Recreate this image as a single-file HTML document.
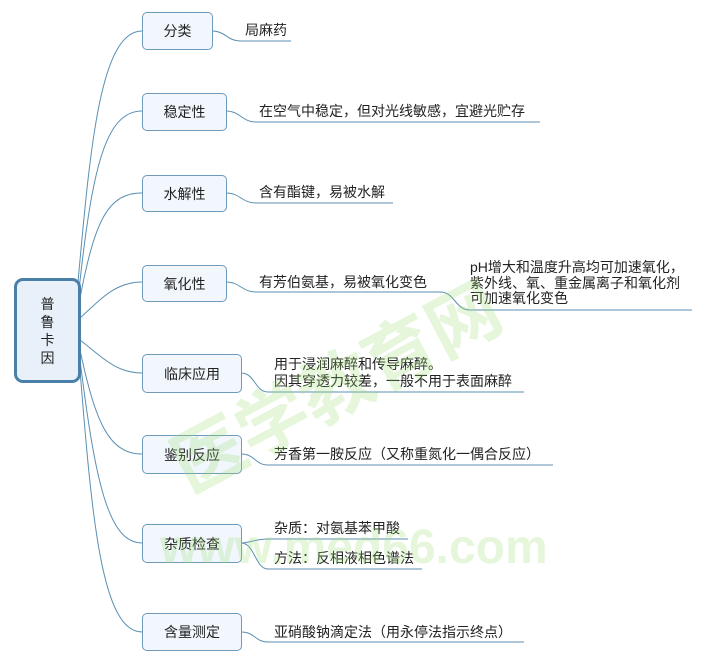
<!DOCTYPE html>
<html><head><meta charset="utf-8"><style>
body{margin:0;background:#fff;width:703px;height:662px;overflow:hidden;position:relative;font-family:"Liberation Sans","Noto Sans CJK SC",sans-serif;}
.b{position:absolute;border:1px solid #6e9abb;border-radius:5px;background:#f1f7fc;font-size:14px;color:#222;display:flex;align-items:center;justify-content:center;box-sizing:border-box;}
.t{position:absolute;font-size:14px;color:#222;white-space:nowrap;line-height:16px;}
.wm{position:absolute;color:rgba(150,220,110,0.25);font-weight:bold;white-space:nowrap;}
</style></head><body>
<svg width="703" height="662" style="position:absolute;left:0;top:0" fill="none" stroke="#5b8fb3" stroke-width="1">
<path d="M78,282 C90,150 100,31 142,31"/>
<path d="M79,290 C92,170 105,111 142,111"/>
<path d="M80,298 C95,220 108,193 142,193"/>
<path d="M80,318 C100,300 115,282 142,282"/>
<path d="M80,340 C100,355 115,373 142,373"/>
<path d="M80,350 C95,420 108,454 142,454"/>
<path d="M80,360 C95,480 108,543 142,543"/>
<path d="M80,370 C92,520 102,632 142,632"/>
<path d="M212,31 C225,31 228,41 240,41 L291,41"/>
<path d="M226,111 C240,111 242,122 256,122 L540,122"/>
<path d="M226,193 C240,193 242,203 256,203 L393,203"/>
<path d="M226,282 C240,282 242,292 256,292 L440,292 C455,292 455,310 470,310 L692,310"/>
<path d="M241,373 C255,373 255,392 268,392 L524,392"/>
<path d="M241,454 C255,454 255,465 268,465 L553,465"/>
<path d="M241,543 C250,543 255,539 268,539 L408,539"/>
<path d="M241,543 C255,543 255,569 268,569 L422,569"/>
<path d="M241,632 C255,632 255,642 268,642 L524,642"/>
</svg>
<div class="b" style="left:14px;top:278px;width:67px;height:105px;border:3px solid #4a80a8;border-radius:9px;background:#e8f1f9;line-height:18px;text-align:center;font-size:14px">普<br>鲁<br>卡<br>因</div>
<div class="b" style="left:142px;top:12px;width:71px;height:38px">分类</div>
<div class="b" style="left:142px;top:93px;width:85px;height:38px">稳定性</div>
<div class="b" style="left:142px;top:175px;width:85px;height:37px">水解性</div>
<div class="b" style="left:142px;top:265px;width:85px;height:37px">氧化性</div>
<div class="b" style="left:142px;top:354px;width:100px;height:39px">临床应用</div>
<div class="b" style="left:142px;top:435px;width:100px;height:39px">鉴别反应</div>
<div class="b" style="left:142px;top:524px;width:100px;height:39px">杂质检查</div>
<div class="b" style="left:142px;top:613px;width:100px;height:38px">含量测定</div>
<div class="t" style="left:245px;top:22px">局麻药</div>
<div class="t" style="left:259px;top:103px">在空气中稳定，但对光线敏感，宜避光贮存</div>
<div class="t" style="left:259px;top:184px">含有酯键，易被水解</div>
<div class="t" style="left:259px;top:274px">有芳伯氨基，易被氧化变色</div>
<div class="t" style="left:470px;top:260px;line-height:15.5px">pH增大和温度升高均可加速氧化，<br>紫外线、氧、重金属离子和氧化剂<br>可加速氧化变色</div>
<div class="t" style="left:274px;top:356px;line-height:17px">用于浸润麻醉和传导麻醉。<br>因其穿透力较差，一般不用于表面麻醉</div>
<div class="t" style="left:274px;top:446px">芳香第一胺反应（又称重氮化一偶合反应）</div>
<div class="t" style="left:274px;top:520px">杂质：对氨基苯甲酸</div>
<div class="t" style="left:274px;top:550px">方法：反相液相色谱法</div>
<div class="t" style="left:274px;top:624px">亚硝酸钠滴定法（用永停法指示终点）</div>
<div class="wm" style="left:150px;top:420px;font-size:72px;transform:rotate(-28deg);transform-origin:left top;font-family:'Noto Sans CJK SC',sans-serif">医学教育网</div>
<div class="wm" style="left:160px;top:520px;font-size:48px">www.med66.com</div>
</body></html>
